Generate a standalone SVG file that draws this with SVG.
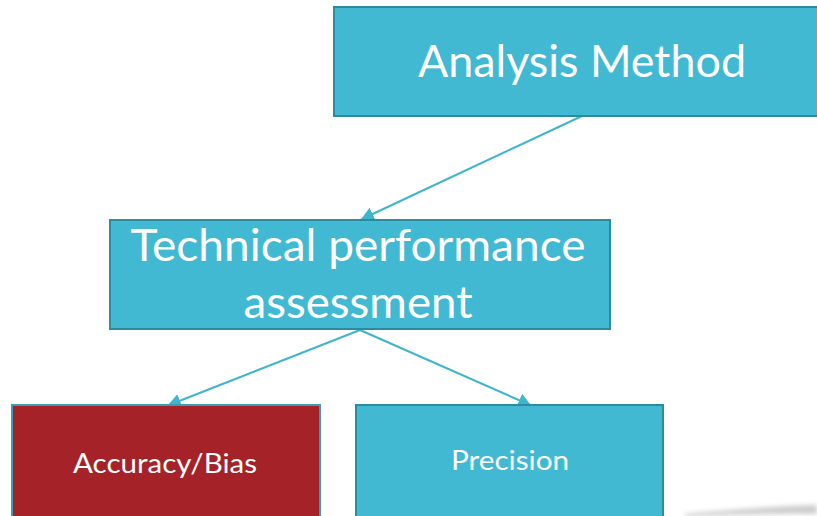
<svg xmlns="http://www.w3.org/2000/svg" width="817" height="516" viewBox="0 0 817 516">
<style>
.box{fill:#42B9D3;stroke:#2E8B9F;stroke-width:2}
.red{fill:#A52228;stroke:#3B9DB3;stroke-width:2}
.t{fill:#fff;font-family:Lato,"Open Sans",sans-serif;text-anchor:middle}
.c{stroke:#3DB5CF;stroke-width:2;fill:none;marker-end:url(#ah)}
</style>
<defs>
<marker id="ah" viewBox="0 0 10 10" refX="9" refY="5" markerWidth="13" markerHeight="14" markerUnits="userSpaceOnUse" orient="auto" preserveAspectRatio="none">
<path d="M0,0 L10,5 L0,10 z" fill="#3DB5CF"/>
</marker>
<filter id="blur" x="-20%" y="-200%" width="140%" height="500%"><feGaussianBlur stdDeviation="2.5"/></filter>
</defs>
<rect width="817" height="516" fill="#fff"/>
<path d="M685,514 Q760,507 817,505 L817,514 Q760,513 685,517 z" fill="#999" opacity="0.5" filter="url(#blur)"/>
<g id="connectors">
<line class="c" x1="582" y1="116" x2="362" y2="219"/>
<line class="c" x1="360" y1="330" x2="169" y2="405"/>
<line class="c" x1="360" y1="330" x2="530" y2="405"/>
</g>
<g id="analysis-method">
<rect class="box" x="334" y="7" width="490" height="109"/>
<text class="t" x="582" y="77" font-size="45" textLength="328" lengthAdjust="spacingAndGlyphs">Analysis Method</text>
</g>
<g id="technical-performance">
<rect class="box" x="110" y="220" width="500" height="109"/>
<text class="t" x="358" y="261" font-size="45" textLength="455" lengthAdjust="spacingAndGlyphs">Technical performance</text>
<text class="t" x="358" y="318" font-size="45" textLength="229" lengthAdjust="spacingAndGlyphs">assessment</text>
</g>
<g id="accuracy-bias">
<rect class="red" x="12" y="405" width="308" height="120"/>
<text class="t" x="165" y="473" font-size="27" textLength="184" lengthAdjust="spacingAndGlyphs">Accuracy/Bias</text>
</g>
<g id="precision">
<rect class="box" x="356" y="405" width="307" height="120"/>
<text class="t" x="510" y="470" font-size="27" textLength="118" lengthAdjust="spacingAndGlyphs">Precision</text>
</g>
</svg>
